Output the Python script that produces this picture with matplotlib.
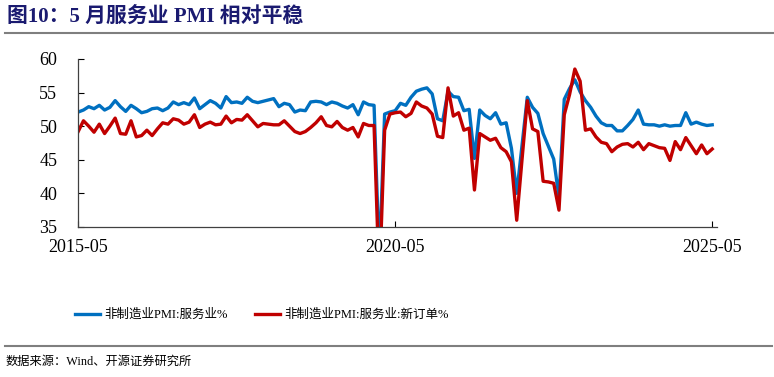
import matplotlib
matplotlib.use("Agg")
import matplotlib.pyplot as plt
from matplotlib.lines import Line2D
import numpy as np

# monthly, 2015-05 .. 2025-05
tick_labels = ["2015-05", "2020-05", "2025-05"]
tick_pos = [0, 60, 120]

services = [
    52.1, 52.4, 52.9, 52.6, 53.1, 52.4, 52.8, 53.8, 52.9, 52.2, 53.1, 52.6, 52.0, 52.2, 52.6, 52.7, 52.3,
    52.7, 53.6, 53.2, 53.5, 53.2, 54.2, 52.6, 53.2, 53.8, 53.4, 52.7, 54.4, 53.5, 53.6, 53.4, 54.3, 53.7, 53.5,
    53.7, 53.9, 54.1, 52.9, 53.4, 53.2, 52.1, 52.4, 52.3, 53.6, 53.7, 53.6, 53.2, 53.6, 53.4, 53.0, 52.7,
    53.2, 51.7, 53.6, 53.2, 53.1, 30.1, 51.8, 52.1, 52.3, 53.4, 53.1, 54.3, 55.2, 55.5, 55.7, 54.8, 51.1, 50.8,
    55.2, 54.4, 54.3, 52.3, 52.5, 45.2, 52.4, 51.6, 51.1, 52.0, 50.3, 50.5, 46.7, 40.0, 47.1, 54.3, 52.8, 51.9,
    48.9, 47.0, 45.1, 39.4,
    54.0, 55.6, 56.9, 55.1, 53.8, 52.8, 51.5, 50.5, 50.1, 50.1, 49.3, 49.3, 50.1, 51.0, 52.4, 50.3, 50.2, 50.2,
    50.0, 50.2, 50.0, 50.1, 50.1, 52.0, 50.3, 50.6, 50.3, 50.1, 50.2,
]

new_orders = [
    49.2, 50.8, 50.0, 49.1, 50.3, 48.9, 50.0, 51.2, 48.9, 48.8, 50.8, 48.4, 48.6, 49.4, 48.6, 49.6, 50.5,
    50.3, 51.1, 50.9, 50.3, 50.6, 51.7, 49.8, 50.3, 50.6, 50.2, 50.3, 51.5, 50.5, 51.0, 50.9, 51.7, 50.8, 49.9,
    50.4, 50.3, 50.2, 50.2, 50.8, 50.0, 49.2, 48.9, 49.2, 49.8, 50.5, 51.4, 50.1, 49.9, 50.7, 49.8, 49.4,
    49.8, 48.4, 50.4, 50.1, 50.1, 26.5, 49.4, 51.8, 52.0, 52.1, 51.4, 51.9, 53.6, 53.0, 52.7, 51.8, 48.5, 48.3,
    55.7, 51.5, 52.0, 49.4, 49.7, 40.5, 48.9, 48.4, 47.9, 48.2, 46.8, 46.2, 44.7, 36.0, 45.0, 53.8, 49.6, 49.2,
    41.8, 41.7, 41.5, 37.5,
    51.7, 54.7, 58.5, 56.7, 49.4, 49.6, 48.4, 47.6, 47.4, 46.2, 46.9, 47.3, 47.4, 46.9, 47.6, 46.5, 47.4, 47.1,
    46.8, 46.7, 44.9, 47.7, 46.5, 48.3, 47.1, 45.9, 47.2, 45.9, 46.6,
]

months = np.arange(len(services))

plt.rcParams["font.family"] = ["Liberation Serif", "Noto Sans CJK SC"]

fig = plt.figure(figsize=(7.74, 3.77), dpi=100)
ax = fig.add_axes([0.101, 0.398, 0.826, 0.4456])

ax.plot(months, services, color="#0070C0", lw=2.4, label="非制造业PMI:服务业%")
ax.plot(months, new_orders, color="#C00000", lw=2.4, label="非制造业PMI:服务业:新订单%")

ax.set_ylim(35, 60)
ax.set_xlim(0, 121)
ax.set_yticks([35, 40, 45, 50, 55, 60])
ax.set_xticks(tick_pos, tick_labels)
ax.tick_params(axis="y", direction="in", length=4, pad=15, labelsize=13)
ax.tick_params(axis="x", direction="in", length=4, pad=9, labelsize=13)
for s in ["top", "right"]:
    ax.spines[s].set_visible(False)
for s in ["left", "bottom"]:
    ax.spines[s].set_color("#404040")
    ax.spines[s].set_linewidth(0.9)

fig.legend(loc="center", bbox_to_anchor=(0.338, 0.165), ncol=2, frameon=False,
           fontsize=9, handlelength=2.0, handletextpad=0.35, columnspacing=2.2)

# title, rules and source
fig.text(0.009, 0.955, "图10：5 月服务业 PMI 相对平稳", fontsize=15, fontweight="bold",
         color="#1A1A70", va="center", ha="left")
fig.add_artist(Line2D([0.006, 1.0], [0.9125, 0.9125], color="#7F7F7F", lw=1.5))
fig.add_artist(Line2D([0.006, 0.997], [0.081, 0.081], color="#7F7F7F", lw=1.5))
fig.text(0.007, 0.041, "数据来源：Wind、开源证券研究所", fontsize=8.8, va="center", ha="left")

fig.savefig("out.png", dpi=100)
